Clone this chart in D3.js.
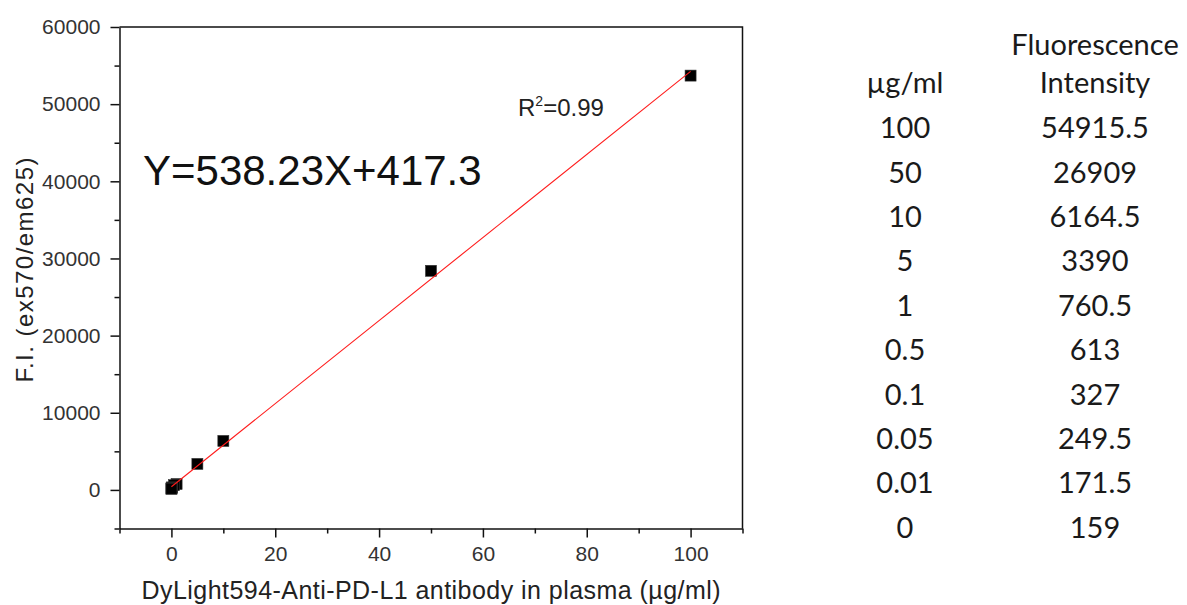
<!DOCTYPE html>
<html>
<head>
<meta charset="utf-8">
<script src="https://cdn.jsdelivr.net/npm/d3@7"></script>
<style>
  html, body { margin: 0; padding: 0; background: #fff; }
  svg { display: block; }
</style>
</head>
<body>
<svg id="chart" width="1187" height="605"></svg>
<script>
// ---- data ----
const concentrations = [100, 50, 10, 5, 1, 0.5, 0.1, 0.05, 0.01, 0];
const plottedFI = [53700, 28400, 6350, 3370, 760.5, 613, 327, 249.5, 171.5, 159];
const tableConc = ["100", "50", "10", "5", "1", "0.5", "0.1", "0.05", "0.01", "0"];
const tableFI = ["54915.5", "26909", "6164.5", "3390", "760.5", "613", "327", "249.5", "171.5", "159"];
const xTicks = [0, 20, 40, 60, 80, 100];
const xMinorTicks = [-10, 10, 30, 50, 70, 90, 110];
const yTicks = [0, 10000, 20000, 30000, 40000, 50000, 60000];
const yMinorTicks = [-5000, 5000, 15000, 25000, 35000, 45000, 55000];
const fitSlope = 538.23;
const fitIntercept = 417.3;
const fitRange = [0, 100];
const equationText = "Y=538.23X+417.3";
const xTitle = "DyLight594-Anti-PD-L1 antibody in plasma (\u00b5g/ml)";
const yTitle = "F.I. (ex570/em625)";

// ---- layout ----
const svg = d3.select("#chart");
const L = 119.5, R = 742.5, T = 27, B = 528.5;
const x = d3.scaleLinear().domain([-10, 110]).range([L, R]);
const y = d3.scaleLinear().domain([-5000, 60000]).range([B, T]);
const axisFont = "'Liberation Sans', Arial, sans-serif";

// frame (top and right)
svg.append("path")
  .attr("d", `M${L},${T}H${R}V${B}`)
  .attr("fill", "none").attr("stroke", "#111").attr("stroke-width", 1.5);

// minor ticks
svg.append("g").attr("transform", `translate(0,${B})`)
  .call(d3.axisBottom(x).tickValues(xMinorTicks).tickSize(5).tickFormat(""))
  .call(g => g.select(".domain").remove())
  .selectAll("line").attr("stroke", "#111").attr("stroke-width", 1.5);
svg.append("g").attr("transform", `translate(${L},0)`)
  .call(d3.axisLeft(y).tickValues(yMinorTicks).tickSize(5).tickFormat(""))
  .call(g => g.select(".domain").remove())
  .selectAll("line").attr("stroke", "#111").attr("stroke-width", 1.5);

// major axes
const gx = svg.append("g").attr("transform", `translate(0,${B})`)
  .call(d3.axisBottom(x).tickValues(xTicks).tickSize(9).tickPadding(9).tickSizeOuter(0).tickFormat(d3.format("d")));
const gy = svg.append("g").attr("transform", `translate(${L},0)`)
  .call(d3.axisLeft(y).tickValues(yTicks).tickSize(9).tickPadding(10).tickSizeOuter(0).tickFormat(d3.format("d")));
[gx, gy].forEach(g => {
  g.select(".domain").attr("stroke", "#111").attr("stroke-width", 1.5);
  g.selectAll(".tick line").attr("stroke", "#111").attr("stroke-width", 1.5);
  g.selectAll(".tick text").attr("font-family", axisFont).attr("font-size", 21).attr("fill", "#333");
});

// points
const pts = concentrations.map((c, i) => ({ c, v: plottedFI[i] }));
svg.append("g").selectAll("rect").data(pts).join("rect")
  .attr("x", d => x(d.c) - 5.5).attr("y", d => y(d.v) - 5.5)
  .attr("width", 11).attr("height", 11)
  .attr("fill", "#000").attr("stroke", "#333").attr("stroke-width", 0.6);

// fit line
svg.append("line")
  .attr("x1", x(fitRange[0])).attr("y1", y(fitSlope * fitRange[0] + fitIntercept))
  .attr("x2", x(fitRange[1])).attr("y2", y(fitSlope * fitRange[1] + fitIntercept))
  .attr("stroke", "#ff1a1a").attr("stroke-width", 1.1);

// annotations
svg.append("text").attr("x", 143).attr("y", 185)
  .attr("font-family", axisFont).attr("font-size", 42).attr("fill", "#111")
  .text(equationText);
const r2 = svg.append("text").attr("x", 518).attr("y", 116)
  .attr("font-family", axisFont).attr("font-size", 24).attr("fill", "#222");
r2.append("tspan").text("R");
r2.append("tspan").attr("font-size", 14).attr("dy", -10).text("2");
r2.append("tspan").attr("dy", 10).text("=0.99");

// axis titles
svg.append("text").attr("x", 431).attr("y", 599)
  .attr("text-anchor", "middle").attr("font-family", axisFont).attr("font-size", 25)
  .attr("fill", "#222").attr("textLength", 579).attr("lengthAdjust", "spacing")
  .text(xTitle);
svg.append("text").attr("transform", "translate(33,270) rotate(-90)")
  .attr("text-anchor", "middle").attr("font-family", axisFont).attr("font-size", 24)
  .attr("fill", "#222").attr("textLength", 225).attr("lengthAdjust", "spacing")
  .text(yTitle);

// table
const tFont = "Lato, 'Open Sans', sans-serif";
const c1 = 905, c2 = 1095;
const table = svg.append("g").attr("font-family", tFont).attr("font-size", 29)
  .attr("fill", "#1a1a1a").attr("text-anchor", "middle");
table.append("text").attr("x", c2).attr("y", 55).text("Fluorescence");
table.append("text").attr("x", c2).attr("y", 93).text("Intensity");
table.append("text").attr("x", c1).attr("y", 93).text("\u00b5g/ml");
const rowY = d3.scaleLinear().domain([0, tableConc.length - 1]).range([138.3, 537.7]);
table.selectAll("text.c1").data(tableConc).join("text").attr("class", "c1")
  .attr("x", c1).attr("y", (d, i) => rowY(i)).text(d => d);
table.selectAll("text.c2").data(tableFI).join("text").attr("class", "c2")
  .attr("x", c2).attr("y", (d, i) => rowY(i)).text(d => d);
</script>
</body>
</html>
